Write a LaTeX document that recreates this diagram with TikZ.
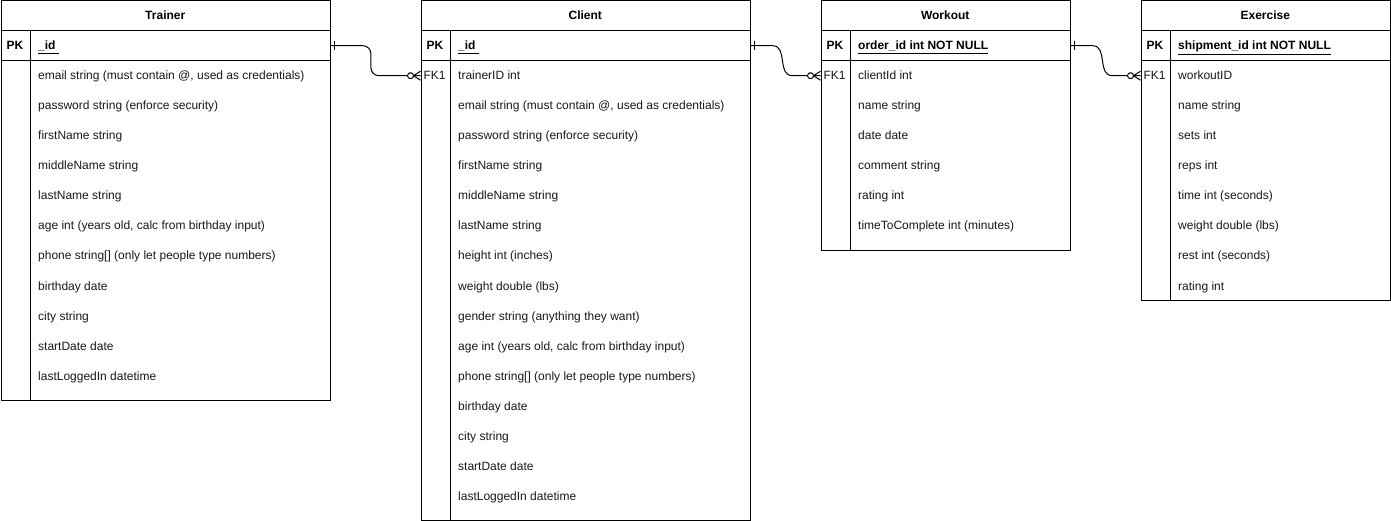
\documentclass[tikz,border=0pt]{standalone}
\usepackage{fontspec}
\setmainfont{Liberation Sans}
\tikzset{
  ln/.style={line width=1pt},
  tbl/.style={draw, line width=1pt, anchor=north west, inner sep=0pt, fill=white},
  rowbox/.style={anchor=north west, inner sep=0pt, minimum height=30pt},
  fld/.style={anchor=base west, inner sep=0pt, font=\fontsize{12}{14}\selectfont, text=black!90},
  lbl/.style={anchor=base, inner sep=0pt, font=\fontsize{12}{14}\selectfont, text=black!90},
  bld/.style={anchor=base, inner sep=0pt, font=\bfseries\fontsize{12}{14}\selectfont},
}
% #1 name, #2 x0, #3 width, #4 height, #5 title, #6 key text, #7 fields
\newcommand\ertab[7]{%
  \node[tbl, minimum width=#3pt, minimum height=#4pt] (#1) at (#2,0.5) {};
  \node[rowbox, minimum width=#3pt] (#1pk) at (#2,30.5) {};
  \node[rowbox, minimum width=#3pt] (#1fk) at (#2,60.5) {};
  \draw[ln] (#1.north west) ++(0,30) -- ++(#3,0);
  \draw[ln] (#1.north west) ++(0,60) -- ++(#3,0);
  \draw[ln] (#1.north west) ++(30,30) -- ([xshift=30pt]#1.south west);
  \node[bld] (#1title) at (#2+#3/2, 20) {#5};
  \node[bld] (#1pklbl) at (#2+14.5, 50) {PK};
  \node[bld, anchor=base west] (#1key) at (#2+37.5, 50) {\underline{#6}};
  \foreach [count=\i] \t in {#7} {
    \node[fld] (#1f\i) at (#2+37.5, 50+30*\i) {\t};
  }
}
% one end (bar) at east of node #1
\newcommand\onemark[1]{%
  \draw[ln] ([xshift=4.5pt,yshift=-4.5pt]#1.east) -- ([xshift=4.5pt,yshift=4.5pt]#1.east);
}
% zero-or-many end at west of node #1
\newcommand\zmanymark[1]{%
  \draw[ln] ([xshift=-7pt]#1.west) -- ([yshift=4.5pt]#1.west);
  \draw[ln] ([xshift=-7pt]#1.west) -- ([yshift=-4.5pt]#1.west);
  \draw[ln, fill=white] ([xshift=-10pt]#1.west) circle (3pt);
}
\begin{document}
\begin{tikzpicture}[x=1pt,y=-1pt]
\useasboundingbox[fill=white] (0,0) rectangle (1391,521);

\ertab{tr}{0.5}{329.5}{399.5}{Trainer}{\_id\ }{
  {email string (must contain @, used as credentials)},
  password string (enforce security),
  firstName string,
  middleName string,
  lastName string,
  {age int (years old, calc from birthday input)},
  {phone string[] (only let people type numbers)},
  birthday date,
  city string,
  startDate date,
  lastLoggedIn datetime}

\ertab{cl}{420.5}{329.5}{519}{Client}{\_id\ }{
  trainerID int,
  {email string (must contain @, used as credentials)},
  password string (enforce security),
  firstName string,
  middleName string,
  lastName string,
  height int (inches),
  weight double (lbs),
  gender string (anything they want),
  {age int (years old, calc from birthday input)},
  {phone string[] (only let people type numbers)},
  birthday date,
  city string,
  startDate date,
  lastLoggedIn datetime}

\ertab{wo}{820.5}{249.5}{249.5}{Workout}{order\_id int NOT NULL}{
  clientId int,
  name string,
  date date,
  comment string,
  rating int,
  timeToComplete int (minutes)}

\ertab{ex}{1140.5}{249.5}{299.5}{Exercise}{shipment\_id int NOT NULL}{
  workoutID,
  name string,
  sets int,
  reps int,
  time int (seconds),
  weight double (lbs),
  rest int (seconds),
  rating int}

\node[lbl] (clfklbl) at (434.5,80) {FK1};
\node[lbl] (wofklbl) at (834.5,80) {FK1};
\node[lbl] (exfklbl) at (1154.5,80) {FK1};

% connectors
\draw[ln, rounded corners=8pt] (trpk.east) -- ++(40.5,0) |- (clfk.west);
\draw[ln] (clpk.east) -- ++(22,0) .. controls +(16,0) and +(-16,0) .. ([xshift=-28pt]wofk.west) -- (wofk.west);
\draw[ln] (wopk.east) -- ++(22,0) .. controls +(16,0) and +(-16,0) .. ([xshift=-28pt]exfk.west) -- (exfk.west);

\onemark{trpk}
\onemark{clpk}
\onemark{wopk}
\zmanymark{clfk}
\zmanymark{wofk}
\zmanymark{exfk}
\end{tikzpicture}
\end{document}
